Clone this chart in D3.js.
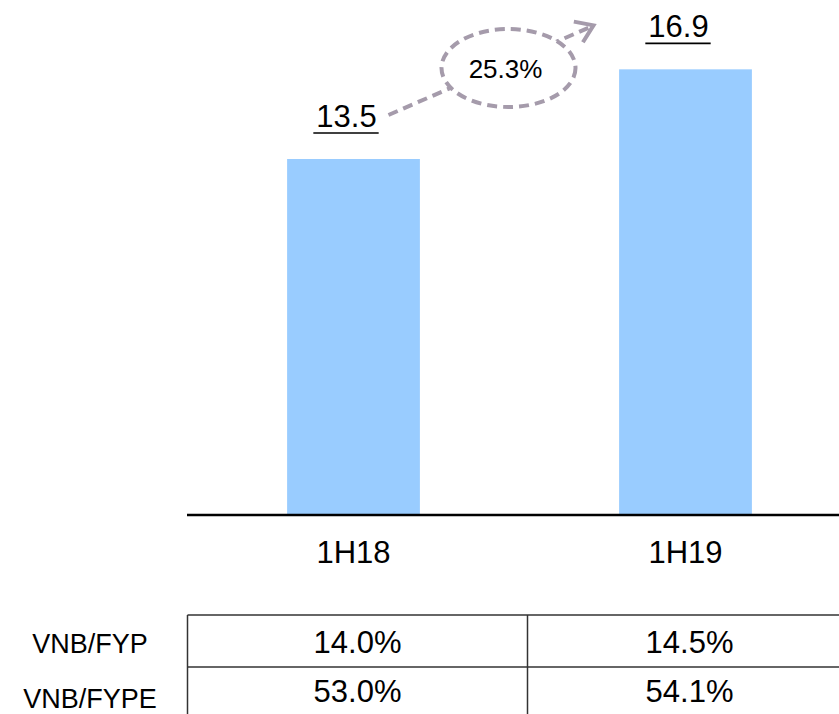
<!DOCTYPE html>
<html>
<head>
<meta charset="utf-8">
<script src="https://cdn.jsdelivr.net/npm/d3@7"></script>
<style>
  body { margin: 0; background: #fff; }
  text { font-family: Arial, "Liberation Sans", sans-serif; fill: #000; }
</style>
</head>
<body>
<script>
// data
var categories = ["1H18", "1H19"];
var values = [13.5, 16.9];
var growthLabel = "25.3%";
var rowLabels = ["VNB/FYP", "VNB/FYPE"];
var rowValues = [["14.0%", "14.5%"], ["53.0%", "54.1%"]];

var width = 839;
var height = 714;
var baseY = 515;
var arrowColor = "#a59bab";

var svg = d3.select("body").append("svg")
    .attr("width", width)
    .attr("height", height);

var x = d3.scaleBand()
    .domain(categories)
    .range([187.5, 851.5])
    .paddingInner(0.6)
    .paddingOuter(0.3);

var y = d3.scaleLinear()
    .domain([0, 13.5])
    .range([baseY, 159]);

var bw = x.bandwidth();

// bars
svg.selectAll(".bar")
  .data(values)
  .enter().append("rect")
    .attr("x", function(d, i) { return x(categories[i]); })
    .attr("y", function(d) { return y(d); })
    .attr("width", bw)
    .attr("height", function(d) { return baseY - y(d); })
    .attr("fill", "#99ccff");

// baseline axis, no ticks
var xAxis = svg.append("g")
    .attr("transform", "translate(0," + baseY + ")")
    .call(d3.axisBottom(x).tickSize(0).tickSizeOuter(0).tickFormat(""));
xAxis.select(".domain").attr("stroke", "#000").attr("stroke-width", 2.5)
    .attr("d", "M187,0H839");

// category labels
svg.selectAll(".cat")
  .data(categories)
  .enter().append("text")
    .attr("x", function(d) { return x(d) + bw / 2; })
    .attr("y", 563)
    .attr("text-anchor", "middle")
    .style("font-size", "31px")
    .text(function(d) { return d; });

// value labels, underlined
values.forEach(function(v, i) {
  var cx = x(categories[i]) + bw / 2 - 7;
  var ty = y(v) - 32;
  var t = svg.append("text")
      .attr("x", cx)
      .attr("y", ty)
      .attr("text-anchor", "middle")
      .style("font-size", "31px")
      .text(d3.format(".1f")(v));
  var bb = t.node().getBBox();
  svg.append("line")
      .attr("x1", bb.x - 3).attr("x2", bb.x + bb.width + 2)
      .attr("y1", ty + 6).attr("y2", ty + 6)
      .attr("stroke", "#000").attr("stroke-width", 1.6);
});

// growth arrow
var x1 = x(categories[0]) + bw / 2 + 35, y1 = y(values[0]) - 44;
var x2 = x(categories[1]) + bw / 2 - 92, y2 = y(values[1]) - 44;

svg.append("line")
    .attr("x1", x1).attr("y1", y1)
    .attr("x2", x2 - 4).attr("y2", y2 + 2)
    .attr("stroke", arrowColor)
    .attr("stroke-width", 4)
    .attr("stroke-dasharray", "10,6");

var ang = Math.atan2(y2 - y1, x2 - x1);
var hl = 20, ha = 0.6;
svg.append("path")
    .attr("d", "M" + (x2 - hl * Math.cos(ang - ha)) + "," + (y2 - hl * Math.sin(ang - ha)) +
               "L" + x2 + "," + y2 +
               "L" + (x2 - hl * Math.cos(ang + ha)) + "," + (y2 - hl * Math.sin(ang + ha)))
    .attr("fill", "none")
    .attr("stroke", arrowColor)
    .attr("stroke-width", 4);

var ex = x1 + 120, ey = y1 - 47;
svg.append("ellipse")
    .attr("cx", ex).attr("cy", ey)
    .attr("rx", 67).attr("ry", 39)
    .attr("fill", "#fff")
    .attr("stroke", arrowColor)
    .attr("stroke-width", 4)
    .attr("stroke-dasharray", "10,6");

svg.append("text")
    .attr("x", ex - 3)
    .attr("y", ey + 10)
    .attr("text-anchor", "middle")
    .style("font-size", "26px")
    .text(growthLabel);

// table under the chart
var rowY = d3.scaleBand()
    .domain(rowLabels)
    .range([615, 719]);

var tbl = svg.append("g");
var divX = (x(categories[0]) + bw + x(categories[1])) / 2 + 8;

tbl.append("line").attr("x1", 187.5).attr("x2", width)
    .attr("y1", rowY(rowLabels[0])).attr("y2", rowY(rowLabels[0]));
tbl.append("line").attr("x1", 187.5).attr("x2", width)
    .attr("y1", rowY(rowLabels[1])).attr("y2", rowY(rowLabels[1]));
tbl.append("line").attr("x1", 187.5).attr("x2", 187.5)
    .attr("y1", 615).attr("y2", height);
tbl.append("line").attr("x1", divX).attr("x2", divX)
    .attr("y1", 615).attr("y2", height);
tbl.selectAll("line").attr("stroke", "#333").attr("stroke-width", 1.5);

rowLabels.forEach(function(r, j) {
  var by = rowY(r) + 38 - j * 3;
  svg.append("text")
      .attr("x", 90)
      .attr("y", by + j * 6)
      .attr("text-anchor", "middle")
      .style("font-size", "27px")
      .text(r);
  rowValues[j].forEach(function(v, i) {
    svg.append("text")
        .attr("x", x(categories[i]) + bw / 2 + 4)
        .attr("y", by)
        .attr("text-anchor", "middle")
        .style("font-size", "31px")
        .text(v);
  });
});
</script>
</body>
</html>
